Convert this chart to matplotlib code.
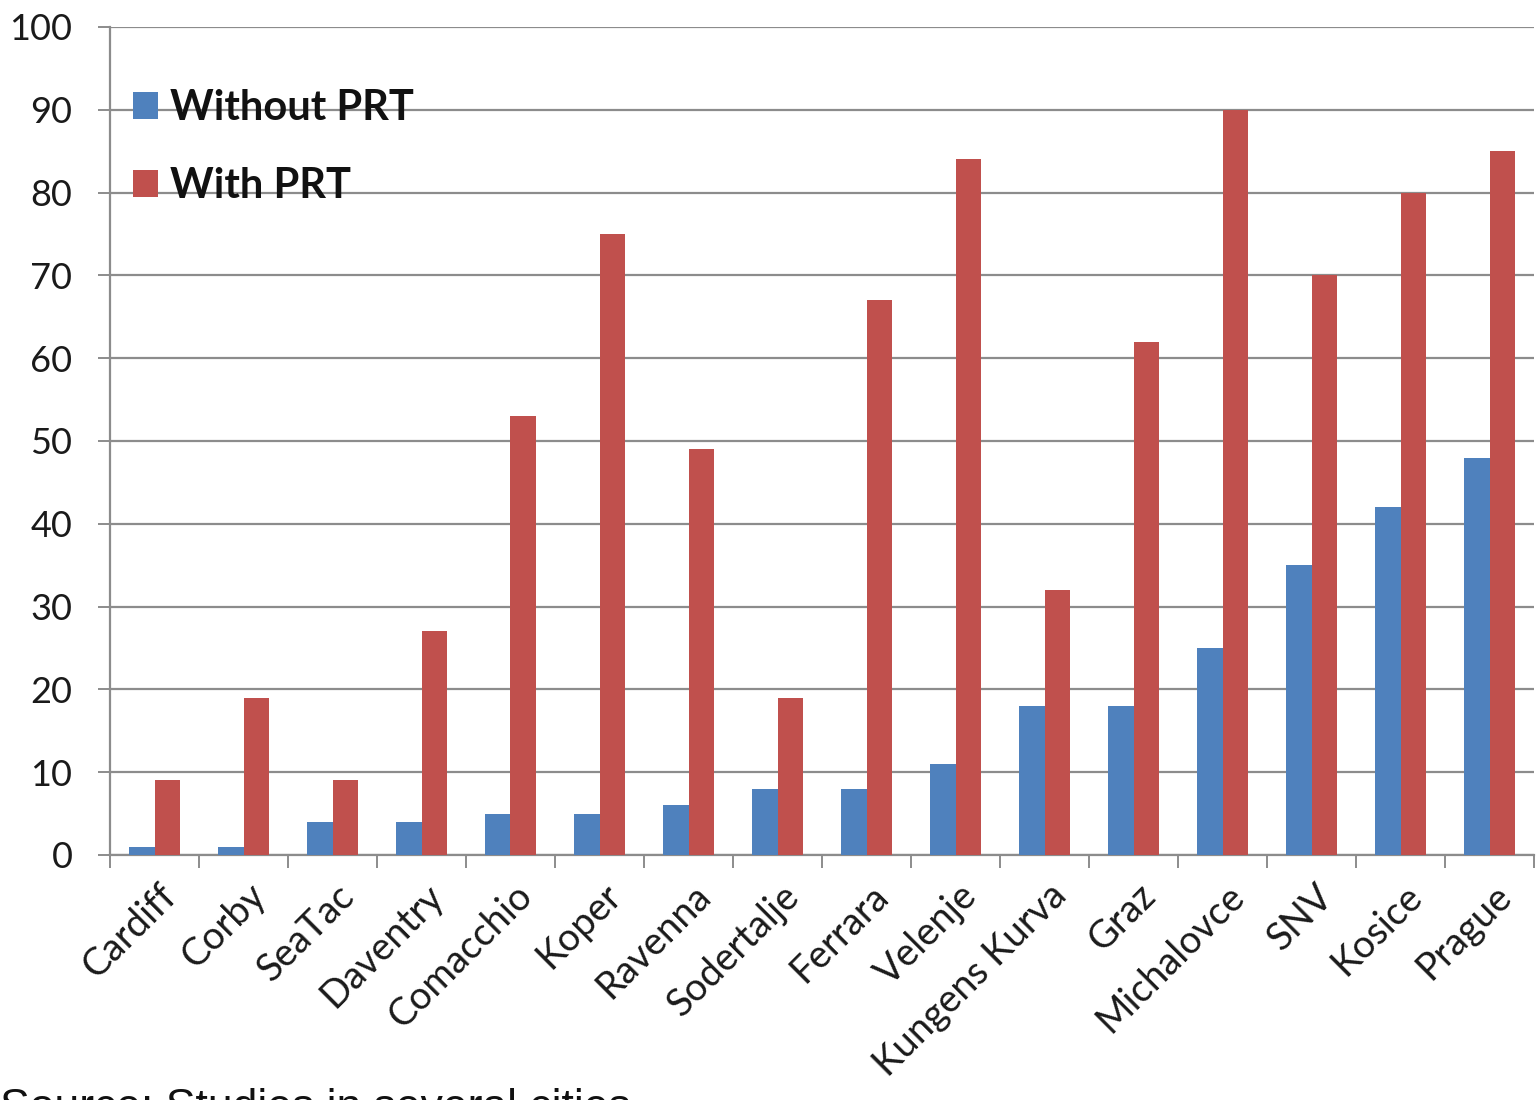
import numpy as np
import matplotlib
matplotlib.use("Agg")
import matplotlib.pyplot as plt
from matplotlib.patches import Patch
from matplotlib.ticker import FixedLocator
import matplotlib.transforms as mtransforms

# Share of trips (percent) in each city, without and with PRT
cities = ["Cardiff", "Corby", "SeaTac", "Daventry", "Comacchio", "Koper",
          "Ravenna", "Sodertalje", "Ferrara", "Velenje", "Kungens Kurva",
          "Graz", "Michalovce", "SNV", "Kosice", "Prague"]
without_prt = [1, 1, 4, 4, 5, 5, 6, 8, 8, 11, 18, 18, 25, 35, 42, 48]
with_prt = [9, 19, 9, 27, 53, 75, 49, 19, 67, 84, 32, 62, 90, 70, 80, 85]
series_labels = ["Without PRT", "With PRT"]
y_ticks = list(range(0, 101, 10))
source_note = "Source: Studies in several cities"

BLUE = "#4F81BD"
RED = "#C0504D"
GRID = "#8c8c8c"

W, H = 1536, 1100
fig = plt.figure(figsize=(W / 100, H / 100), dpi=100)
fig.patch.set_facecolor("white")

left, right, top, bottom = 110, 1534, 27, 855
ax = fig.add_axes([left / W, 1 - bottom / H, (right - left) / W, (bottom - top) / H])

x = np.arange(len(cities))
bw = 0.29
ax.bar(x - bw / 2, without_prt, bw, color=BLUE, zorder=3, label=series_labels[0])
ax.bar(x + bw / 2, with_prt, bw, color=RED, zorder=3, label=series_labels[1])

ax.set_xlim(-0.5, len(cities) - 0.5)
ax.set_ylim(0, 100)

# horizontal gridlines
ax.set_yticks(y_ticks)
ax.yaxis.grid(True, color=GRID, linewidth=1.6, zorder=0)
ax.set_axisbelow(True)

for s in ("top", "right"):
    ax.spines[s].set_visible(False)
for s in ("left", "bottom"):
    ax.spines[s].set_color(GRID)
    ax.spines[s].set_linewidth(1.6)

tick_font = dict(family=["Lato", "DejaVu Sans"], size=26, color="#1a1a1a")

ax.tick_params(axis="y", direction="out", length=9, width=1.4, color=GRID, pad=18)
for lab in ax.get_yticklabels():
    lab.set_fontfamily(tick_font["family"])
    lab.set_fontsize(tick_font["size"])
    lab.set_color(tick_font["color"])

# category labels at bar-group centres, tick marks at group boundaries
ax.set_xticks(x)
ax.xaxis.set_minor_locator(FixedLocator(np.arange(-0.5, len(cities), 1.0)))
ax.tick_params(axis="x", which="major", length=0, pad=8)
ax.tick_params(axis="x", which="minor", direction="out", length=9, width=1.4, color=GRID)
ax.set_xticklabels(cities, rotation=45, ha="right", va="center",
                   rotation_mode="anchor", family=tick_font["family"],
                   size=27.5, color=tick_font["color"])
shift = mtransforms.ScaledTranslation(16 / 100, -24 / 100, fig.dpi_scale_trans)
for lab in ax.get_xticklabels():
    lab.set_transform(lab.get_transform() + shift)

# legend in the upper-left of the plot area
handles = [Patch(facecolor=BLUE, edgecolor="none"), Patch(facecolor=RED, edgecolor="none")]
leg = fig.legend(handles, series_labels, loc="upper left",
                 bbox_to_anchor=(133 / W, 1 - 89 / H), bbox_transform=fig.transFigure,
                 frameon=False, borderpad=0, borderaxespad=0,
                 handlelength=0.6, handleheight=0.6, handletextpad=0.3,
                 labelspacing=0.97,
                 prop=dict(family=["Lato", "DejaVu Sans"], weight="bold", size=30))
for t in leg.get_texts():
    t.set_color("#111111")

# source note along the bottom edge
fig.text(0, -20 / H, source_note, ha="left", va="baseline",
         fontsize=32, family=["Liberation Sans", "DejaVu Sans"], color="#111111")

fig.savefig("out.png", dpi=100, facecolor="white")
